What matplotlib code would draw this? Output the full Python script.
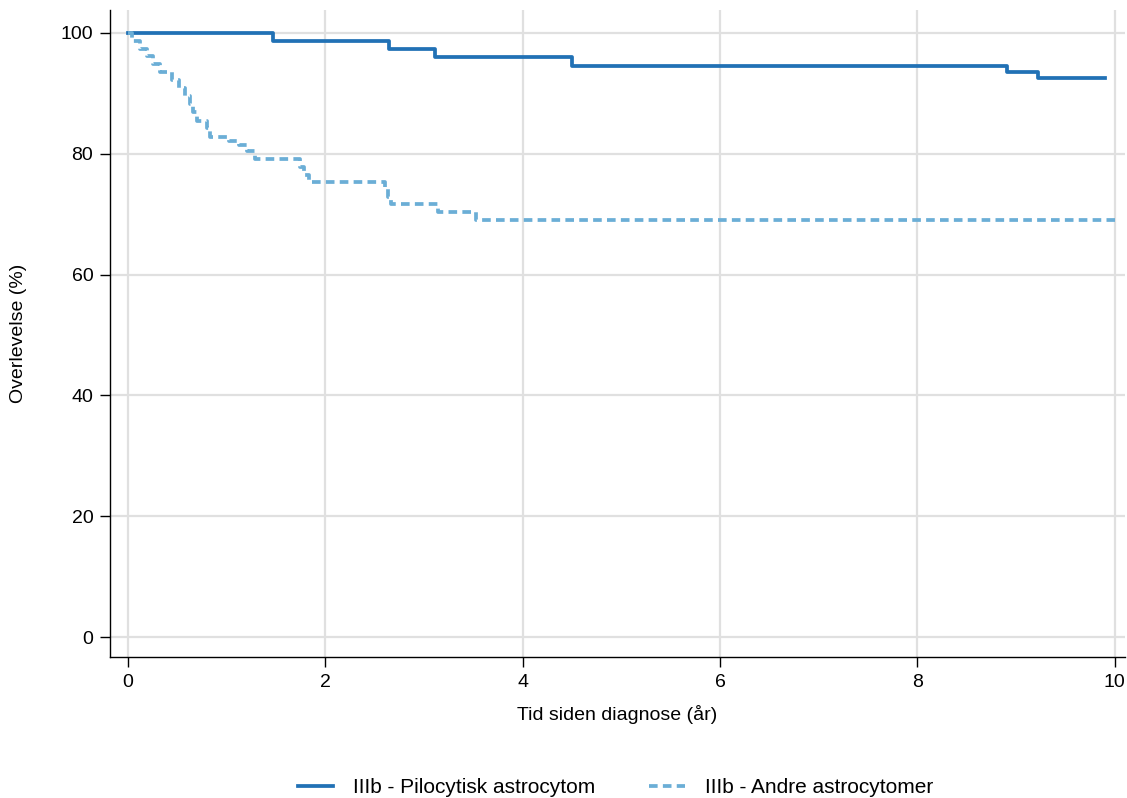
import matplotlib.pyplot as plt

# ── Data ──────────────────────────────────────────────────────────────────────
# Kaplan–Meier steps: time (år) where the survival changes, survival after step
pilo_time = [0.0, 1.47, 2.645, 3.115, 4.50, 8.91, 9.22, 9.90]
pilo_surv = [100.0, 98.65, 97.3, 95.95, 94.6, 93.6, 92.6, 92.6]

andre_time = [0.0, 0.04, 0.12, 0.19, 0.26, 0.33, 0.45, 0.52, 0.58, 0.63, 0.66,
              0.70, 0.80, 0.83, 1.03, 1.13, 1.21, 1.29, 1.74, 1.79, 1.84,
              2.61, 2.64, 2.67, 3.14, 3.53, 10.0]
andre_surv = [100.0, 98.7, 97.4, 96.1, 94.8, 93.5, 92.2, 90.9, 89.6, 88.3, 86.9,
              85.4, 84.2, 82.8, 82.1, 81.5, 80.5, 79.2, 77.8, 76.5, 75.4,
              74.1, 72.9, 71.7, 70.4, 69.1, 69.1]

labels = ["IIIb - Pilocytisk astrocytom", "IIIb - Andre astrocytomer"]
xticks = [0, 2, 4, 6, 8, 10]
yticks = [0, 20, 40, 60, 80, 100]

# ── Figure ────────────────────────────────────────────────────────────────────
plt.rcParams["font.family"] = ["Liberation Sans", "DejaVu Sans"]
FS = 14

fig = plt.figure(figsize=(11.27, 7.98), dpi=100)
ax = fig.add_axes([0.0976, 0.1767, 0.9004, 0.8108])

ax.step(pilo_time, pilo_surv, where="post", color="#2171b5", lw=2.7,
        label=labels[0], zorder=3)
ax.step(andre_time, andre_surv, where="post", color="#6baed6", lw=2.7,
        linestyle=(0, (2.3, 1.4)), dash_capstyle="butt", label=labels[1],
        zorder=3)

ax.set_xlim(-0.18, 10.1)
ax.set_ylim(-3.3, 103.8)
ax.set_xticks(xticks)
ax.set_yticks(yticks)
ax.grid(True, color="#e0e0e0", lw=1.6)
ax.set_axisbelow(True)

for side in ["top", "right"]:
    ax.spines[side].set_visible(False)
for side in ["left", "bottom"]:
    ax.spines[side].set_linewidth(1.0)

ax.tick_params(axis="both", direction="out", length=7, width=1.0,
               labelsize=FS, pad=5)
ax.set_xlabel("Tid siden diagnose (år)", fontsize=FS, labelpad=10)
ax.set_ylabel("Overlevelse (%)", fontsize=FS, labelpad=24)

fig.legend(loc="lower center", bbox_to_anchor=(0.546, -0.022), ncol=2,
           frameon=False, fontsize=15, handlelength=1.7, handletextpad=0.95,
           columnspacing=2.6)

fig.savefig("out.png", dpi=100)
plt.close(fig)
